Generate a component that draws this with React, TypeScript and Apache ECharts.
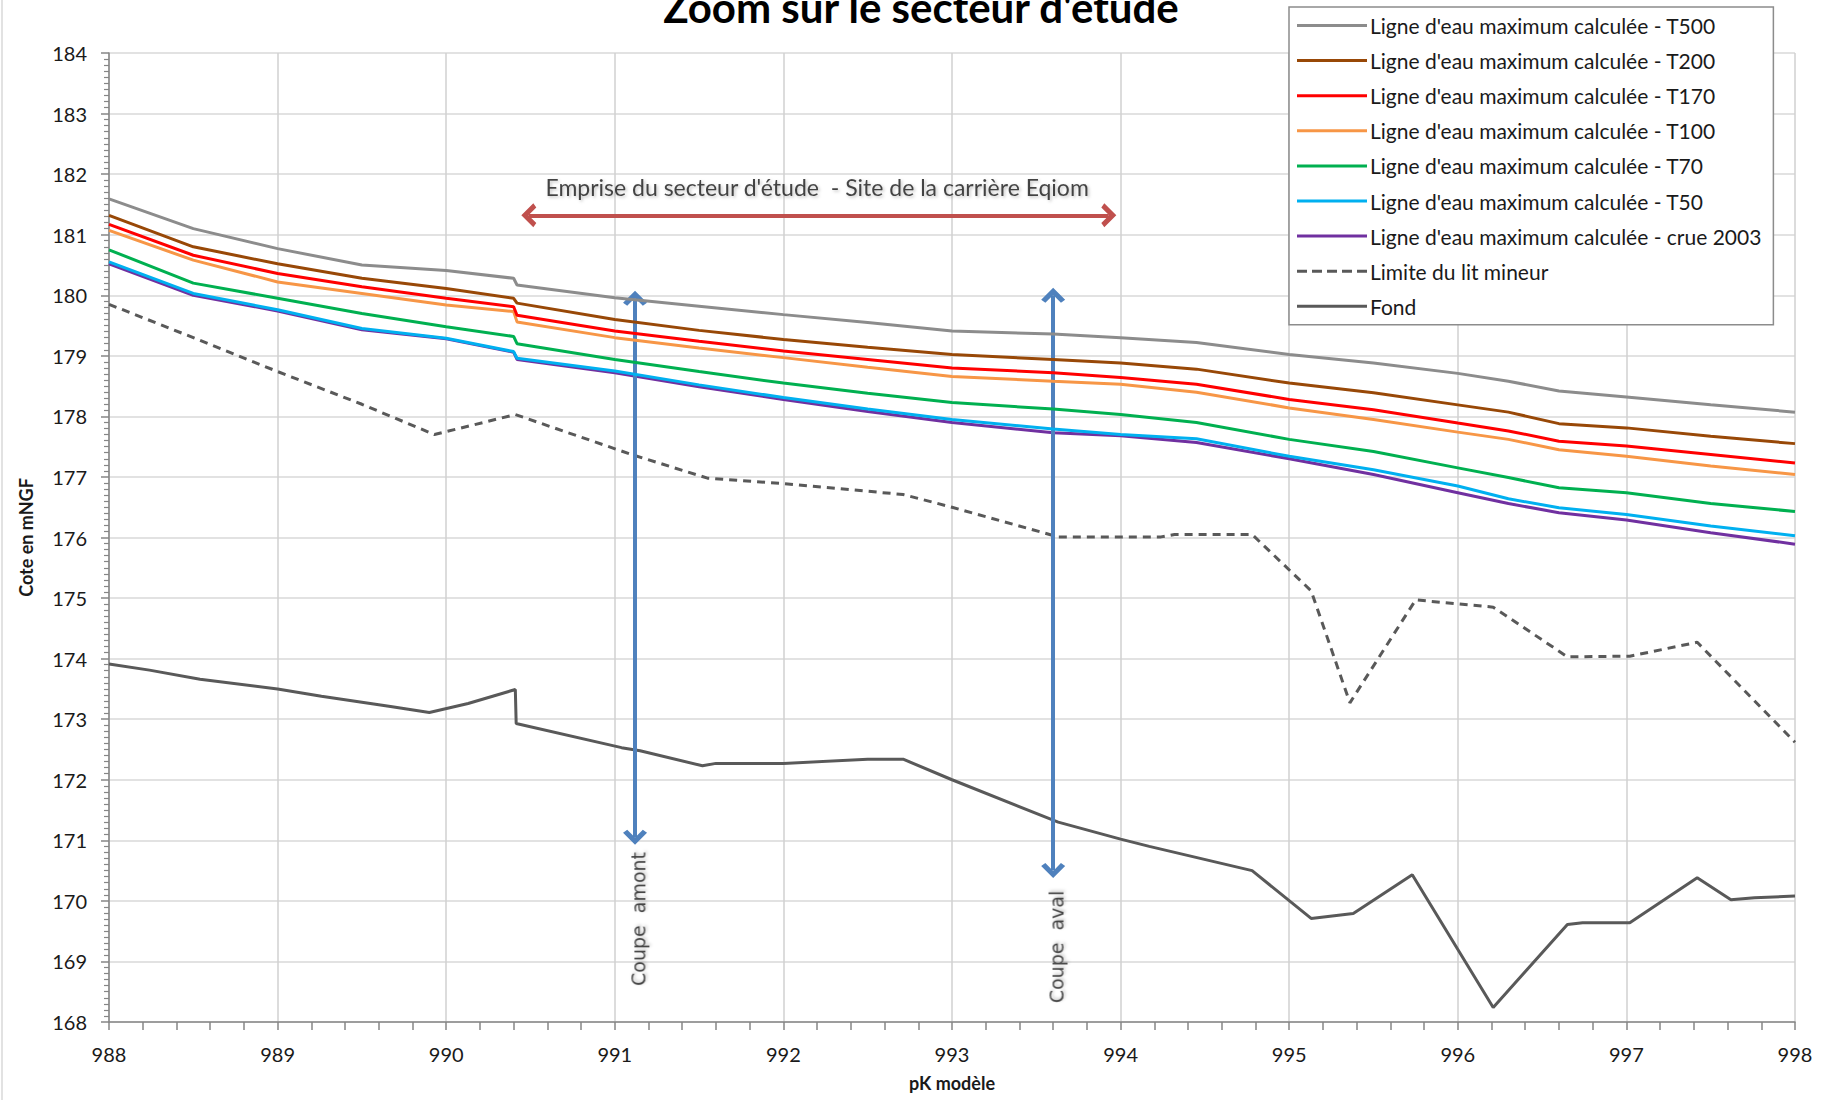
import React, { useEffect, useRef } from "react";
import * as echarts from "echarts";

// ---- Data ----
const waterPK = [988, 988.5, 989, 989.5, 990, 990.4, 990.42, 991, 991.5, 992, 992.5, 993, 993.6, 994, 994.45, 995, 995.5, 996, 996.3, 996.6, 997, 997.5, 998];
const t500 = [181.59, 181.1, 180.77, 180.5, 180.41, 180.28, 180.17, 179.96, 179.82, 179.68, 179.55, 179.41, 179.36, 179.3, 179.22, 179.02, 178.88, 178.71, 178.58, 178.42, 178.32, 178.19, 178.07];
const t200 = [181.32, 180.8, 180.52, 180.28, 180.11, 179.95, 179.87, 179.6, 179.42, 179.27, 179.14, 179.02, 178.94, 178.88, 178.78, 178.55, 178.39, 178.19, 178.07, 177.88, 177.81, 177.67, 177.55];
const t170 = [181.17, 180.66, 180.36, 180.14, 179.95, 179.81, 179.67, 179.41, 179.24, 179.08, 178.94, 178.8, 178.72, 178.64, 178.53, 178.28, 178.11, 177.89, 177.76, 177.59, 177.51, 177.37, 177.23];
const t100 = [181.07, 180.58, 180.22, 180.03, 179.84, 179.73, 179.56, 179.3, 179.13, 178.97, 178.81, 178.66, 178.58, 178.53, 178.4, 178.14, 177.95, 177.74, 177.62, 177.45, 177.34, 177.18, 177.04];
const t70 = [180.75, 180.2, 179.95, 179.7, 179.48, 179.32, 179.2, 178.94, 178.74, 178.55, 178.38, 178.23, 178.12, 178.03, 177.9, 177.62, 177.42, 177.15, 176.99, 176.82, 176.74, 176.56, 176.43];
const t50 = [180.55, 180.03, 179.76, 179.45, 179.29, 179.07, 178.96, 178.75, 178.52, 178.31, 178.12, 177.95, 177.79, 177.7, 177.63, 177.34, 177.12, 176.85, 176.64, 176.49, 176.38, 176.19, 176.03];
const crue2003 = [180.52, 180.0, 179.74, 179.43, 179.28, 179.06, 178.94, 178.72, 178.49, 178.28, 178.08, 177.9, 177.73, 177.68, 177.57, 177.3, 177.04, 176.74, 176.56, 176.41, 176.29, 176.08, 175.89];

const limitePK = [988, 988.5, 989, 989.5, 989.93, 990.41, 991.1, 991.55, 992, 992.71, 993, 993.63, 994.24, 994.32, 994.78, 995.13, 995.36, 995.75, 996.21, 996.65, 997.02, 997.42, 998];
const limite = [179.85, 179.3, 178.74, 178.2, 177.7, 178.03, 177.37, 176.98, 176.89, 176.71, 176.5, 176.01, 176.01, 176.05, 176.05, 175.12, 173.27, 174.97, 174.85, 174.03, 174.04, 174.27, 172.62];

const fondPK = [988, 988.24, 988.54, 989, 989.26, 989.67, 989.9, 990.13, 990.41, 990.415, 991.04, 991.15, 991.52, 991.6, 992, 992.5, 992.71, 993, 993.63, 994, 994.17, 994.78, 995.13, 995.38, 995.73, 996.21, 996.65, 996.74, 997.02, 997.42, 997.62, 997.76, 998];
const fond = [173.91, 173.81, 173.66, 173.5, 173.38, 173.21, 173.11, 173.26, 173.49, 172.93, 172.53, 172.48, 172.23, 172.27, 172.27, 172.34, 172.34, 172.0, 171.3, 171.02, 170.9, 170.5, 169.71, 169.79, 170.43, 168.24, 169.61, 169.64, 169.64, 170.38, 170.02, 170.05, 170.08];

const seriesNames = [
  "Ligne d'eau maximum calculée - T500",
  "Ligne d'eau maximum calculée - T200",
  "Ligne d'eau maximum calculée - T170",
  "Ligne d'eau maximum calculée - T100",
  "Ligne d'eau maximum calculée - T70",
  "Ligne d'eau maximum calculée - T50",
  "Ligne d'eau maximum calculée - crue 2003",
  "Limite du lit mineur",
  "Fond",
];
const seriesColors = ["#8c8c8c", "#984807", "#ff0000", "#f79646", "#00b050", "#00b0f0", "#7030a0", "#595959", "#595959"];

// annotation arrows: [x1, y1, x2, y2]
const redArrow = [990.49, 181.32, 993.93, 181.32];
const blueArrowAmont = [991.12, 179.95, 991.12, 171.05];
const blueArrowAval = [993.6, 180.0, 993.6, 170.5];

// annotation texts: [x, y]
const empriseText = "Emprise du secteur d'étude  - Site de la carrière Eqiom";
const empriseAt = [992.2, 181.78];
const amontText = "Coupe  amont";
const amontAt = [991.14, 169.7];
const avalText = "Coupe  aval";
const avalAt = [993.62, 169.24];

const FONT = "Lato, 'Open Sans', sans-serif";

function zip(xs: number[], ys: number[]) {
  return xs.map((x, i) => [x, ys[i]]);
}

const chevron = "path://M0,10 L10,0 L20,10 L16.5,12.5 L10,6 L3.5,12.5 Z";
const solidIcon = "path://M0,0 L70,0 L70,3 L0,3 Z";
const dashedIcon = "path://M0,0h10v3h-10z M15,0h10v3h-10z M30,0h10v3h-10z M45,0h10v3h-10z M60,0h10v3h-10z";

export default function App() {
  const ref = useRef<HTMLDivElement>(null);

  useEffect(() => {
    if (!ref.current) return;
    const chart = echarts.init(ref.current, undefined, { renderer: "svg" });
    const waterSets = [t500, t200, t170, t100, t70, t50, crue2003];

    const lineSeries: any[] = waterSets.map((vals, i) => ({
      name: seriesNames[i],
      type: "line",
      data: zip(waterPK, vals),
      showSymbol: false,
      symbol: "none",
      lineStyle: { color: seriesColors[i], width: 3 },
      itemStyle: { color: seriesColors[i] },
      z: 3 + (7 - i),
    }));
    lineSeries.push({
      name: seriesNames[7],
      type: "line",
      data: zip(limitePK, limite),
      showSymbol: false,
      symbol: "none",
      lineStyle: { color: seriesColors[7], width: 3, type: [8, 6] },
      itemStyle: { color: seriesColors[7] },
      z: 3,
    });
    lineSeries.push({
      name: seriesNames[8],
      type: "line",
      data: zip(fondPK, fond),
      showSymbol: false,
      symbol: "none",
      lineStyle: { color: seriesColors[8], width: 3 },
      itemStyle: { color: seriesColors[8] },
      z: 3,
    });

    const arrowLine = (a: number[], color: string) => [
      { coord: [a[0], a[1]], lineStyle: { color }, itemStyle: { color } },
      { coord: [a[2], a[3]] },
    ];

    lineSeries.push({
      name: "annotations",
      type: "line",
      data: [],
      silent: true,
      z: 20,
      markLine: {
        silent: true,
        animation: false,
        symbol: [chevron, chevron],
        symbolSize: [24, 15],
        label: { show: false },
        emphasis: { disabled: true },
        lineStyle: { width: 4, type: "solid", opacity: 1 },
        data: [
          arrowLine(redArrow, "#c0504d"),
          arrowLine(blueArrowAmont, "#4f81bd"),
          arrowLine(blueArrowAval, "#4f81bd"),
        ],
      },
    });

    const shadow = {
      textShadowColor: "rgba(0,0,0,0.3)",
      textShadowBlur: 3,
      textShadowOffsetX: 1.5,
      textShadowOffsetY: 1.5,
    };

    lineSeries.push({
      name: "labels",
      type: "scatter",
      symbolSize: 0,
      silent: true,
      z: 21,
      data: [
        {
          value: empriseAt,
          label: {
            show: true,
            position: "inside",
            formatter: empriseText,
            fontFamily: FONT,
            fontSize: 23,
            color: "#1a1a1a",
            ...shadow,
          },
        },
        {
          value: amontAt,
          label: {
            show: true,
            position: "inside",
            rotate: 90,
            formatter: amontText,
            fontFamily: "'DejaVu Sans', sans-serif",
            fontSize: 19,
            color: "#1a1a1a",
            ...shadow,
          },
        },
        {
          value: avalAt,
          label: {
            show: true,
            position: "inside",
            rotate: 90,
            formatter: avalText,
            fontFamily: "'DejaVu Sans', sans-serif",
            fontSize: 19,
            color: "#1a1a1a",
            ...shadow,
          },
        },
      ],
    });

    chart.setOption({
      animation: false,
      backgroundColor: "#ffffff",
      textStyle: { fontFamily: FONT },
      grid: { left: 109, right: 37, top: 53, bottom: 78, containLabel: false },
      legend: {
        data: seriesNames.map((n, i) => ({ name: n, icon: i === 7 ? dashedIcon : solidIcon })),
        orient: "vertical",
        left: 1289,
        top: 7,
        padding: [8, 12, 8, 8],
        itemGap: 14.1,
        itemWidth: 70,
        itemHeight: 3,
        backgroundColor: "#ffffff",
        borderColor: "#8c8c8c",
        borderWidth: 1.5,
        borderRadius: 0,
        textStyle: { fontFamily: FONT, fontSize: 21, color: "#1a1a1a", padding: [0, 0, 0, -2] },
        selectedMode: false,
        z: 30,
      },
      graphic: [
        {
          type: "text",
          style: {
            x: 921,
            y: 28,
            text: "Zoom sur le secteur d'étude",
            fontFamily: FONT,
            fontWeight: "bold",
            fontSize: 42,
            fill: "#000000",
            align: "center",
            verticalAlign: "bottom",
          },
        },
        {
          type: "line",
          shape: { x1: 2, y1: 0, x2: 2, y2: 1100 },
          style: { stroke: "#d9d9d9", lineWidth: 1.5 },
        },
      ],
      xAxis: {
        type: "value",
        min: 988,
        max: 998,
        interval: 1,
        name: "pK modèle",
        nameLocation: "middle",
        nameGap: 52,
        nameTextStyle: { fontFamily: FONT, fontWeight: "bold", fontSize: 18, color: "#1a1a1a" },
        axisLine: { show: true, onZero: false, lineStyle: { color: "#868686", width: 1.5 } },
        axisTick: { show: true, length: 8, lineStyle: { color: "#868686", width: 1.5 } },
        minorTick: { show: true, splitNumber: 5, length: 8, lineStyle: { color: "#868686", width: 1.5 } },
        axisLabel: { margin: 22, fontFamily: FONT, fontSize: 20, color: "#1a1a1a" },
        splitLine: { show: true, lineStyle: { color: "#d0d0d0", width: 1.5 } },
      },
      yAxis: {
        type: "value",
        min: 168,
        max: 184,
        interval: 1,
        name: "Cote en mNGF",
        nameLocation: "middle",
        nameGap: 74,
        nameTextStyle: { fontFamily: FONT, fontWeight: "bold", fontSize: 18, color: "#1a1a1a" },
        axisLine: { show: true, onZero: false, lineStyle: { color: "#868686", width: 1.5 } },
        axisTick: { show: true, length: 8, lineStyle: { color: "#868686", width: 1.5 } },
        minorTick: { show: true, splitNumber: 10, length: 5, lineStyle: { color: "#868686", width: 1.2 } },
        axisLabel: { margin: 22, fontFamily: FONT, fontSize: 20, color: "#1a1a1a" },
        splitLine: { show: true, lineStyle: { color: "#d9d9d9", width: 1.5 } },
      },
      series: lineSeries,
    });

    return () => chart.dispose();
  }, []);

  return (
    <div
      ref={ref}
      style={{ position: "fixed", left: 0, top: 0, width: 1832, height: 1100, background: "#fff" }}
    />
  );
}
